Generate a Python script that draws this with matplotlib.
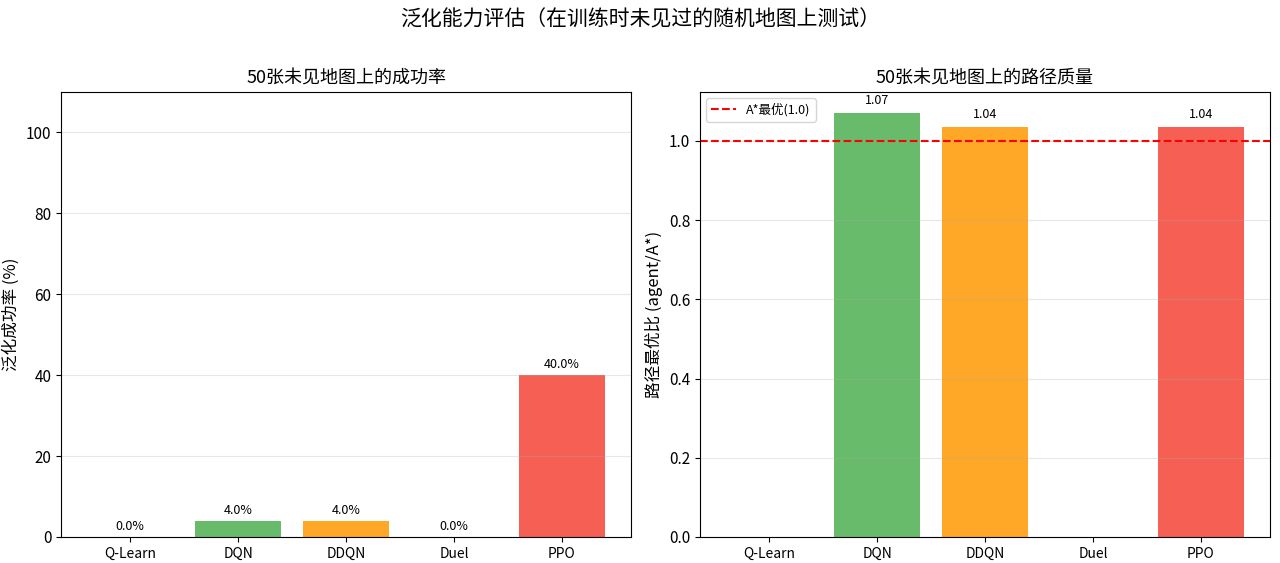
import numpy as np
import matplotlib
matplotlib.use('Agg')
import matplotlib.pyplot as plt

plt.rcParams['font.family'] = ['Noto Sans CJK SC', 'DejaVu Sans']
plt.rcParams['axes.unicode_minus'] = False

# 数据
algos = ['Q-Learn', 'DQN', 'DDQN', 'Duel', 'PPO']
success_rate = [0.0, 4.0, 4.0, 0.0, 40.0]
path_ratio = [np.nan, 1.07, 1.036, np.nan, 1.036]
colors = ['#2196F3', '#4CAF50', '#FF9800', '#9C27B0', '#F44336']

fig = plt.figure(figsize=(12.8, 5.63), dpi=100)
ax1 = fig.add_axes([0.0477, 0.0462, 0.4453, 0.7904])
ax2 = fig.add_axes([0.5469, 0.0462, 0.4453, 0.7904])

x = np.arange(len(algos))

# 成功率
bars = ax1.bar(x, success_rate, color=colors, alpha=0.85)
for b, v in zip(bars, success_rate):
    ax1.text(b.get_x() + b.get_width() / 2, v + 1, f'{v:.1f}%',
             ha='center', va='bottom', fontsize=9)
ax1.set_xticks(x)
ax1.set_xticklabels(algos, fontsize=10)
ax1.set_ylim(0, 110)
ax1.set_ylabel('泛化成功率 (%)', fontsize=12)
ax1.set_title('50张未见地图上的成功率', fontsize=13)
ax1.grid(axis='y', alpha=0.3)
ax1.tick_params(axis='y', labelsize=11)

# 路径质量
vals = [0 if np.isnan(v) else v for v in path_ratio]
bars = ax2.bar(x, vals, color=colors, alpha=0.85)
for b, v in zip(bars, path_ratio):
    if not np.isnan(v):
        ax2.text(b.get_x() + b.get_width() / 2, v + 0.015, f'{v:.2f}',
                 ha='center', va='bottom', fontsize=9)
ax2.axhline(1.0, color='red', linestyle='--', linewidth=1.5, label='A*最优(1.0)')
ax2.set_xticks(x)
ax2.set_xticklabels(algos, fontsize=10)
ax2.set_ylim(0, np.nanmax(path_ratio) * 1.05)
ax2.set_ylabel('路径最优比 (agent/A*)', fontsize=12)
ax2.set_title('50张未见地图上的路径质量', fontsize=13)
ax2.legend(loc='upper left', fontsize=9)
ax2.grid(axis='y', alpha=0.3)
ax2.tick_params(axis='y', labelsize=11)

fig.suptitle('泛化能力评估（在训练时未见过的随机地图上测试）', fontsize=15, y=0.985)

fig.savefig('out.png', dpi=100)
